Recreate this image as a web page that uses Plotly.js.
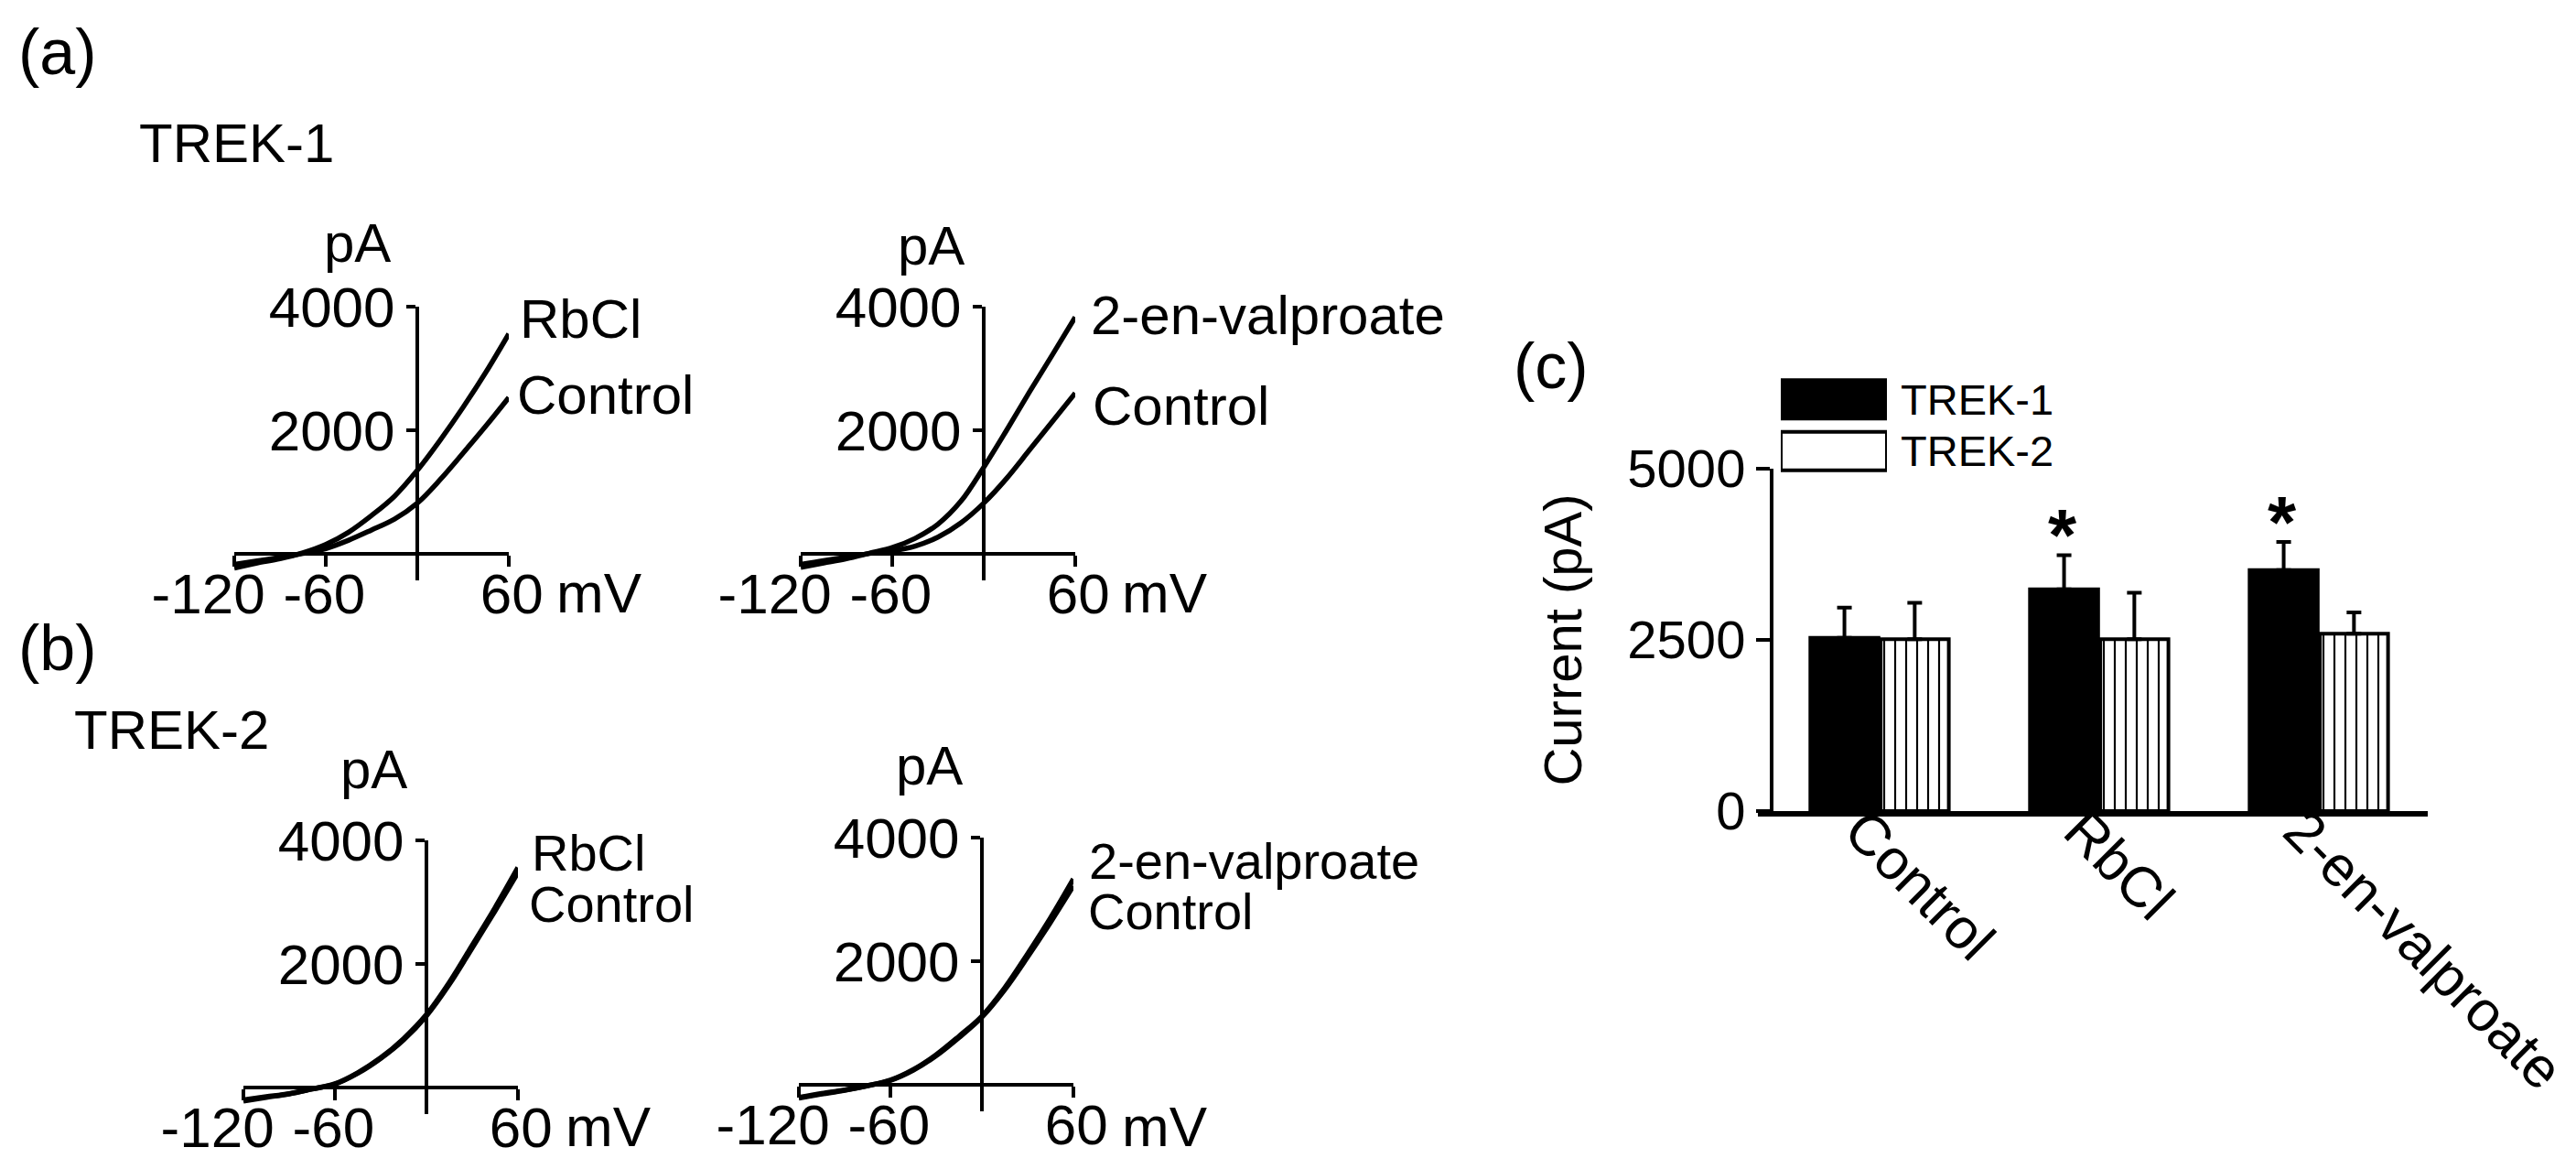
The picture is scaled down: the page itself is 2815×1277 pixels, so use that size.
<!DOCTYPE html>
<html>
<head>
<meta charset="utf-8">
<script src="https://cdn.plot.ly/plotly-3.0.1.min.js"></script>
<style>html,body{margin:0;padding:0;background:#fff;}#chart{width:2815px;height:1277px;}</style>
</head>
<body>
<div id="chart"></div>
<script>
// ---------------- DATA ----------------
const voltage = [-120, -105, -90, -75, -60, -45, -30, -15, 0, 15, 30, 45, 60];
// Panel (a) TREK-1 current (pA)
const trek1RbCl      = [-230, -150, -80, 15, 150, 350, 620, 930, 1350, 1840, 2370, 2940, 3560];
const trek1ControlA  = [-170, -115, -60, 5, 85, 220, 385, 560, 820, 1200, 1630, 2070, 2530];
const trek1Valproate = [-220, -150, -80, 10, 100, 250, 480, 850, 1400, 2000, 2620, 3220, 3830];
const trek1ControlB  = [-170, -110, -55, 5, 50, 125, 270, 500, 820, 1220, 1680, 2140, 2600];
// Panel (b) TREK-2 current (pA)
const trek2RbCl      = [-220, -160, -105, -25, 60, 240, 480, 790, 1180, 1700, 2300, 2910, 3560];
const trek2ControlA  = [-200, -150, -100, -25, 55, 230, 470, 770, 1160, 1670, 2260, 2860, 3480];
const trek2Valproate = [-215, -150, -90, -15, 75, 245, 485, 785, 1110, 1570, 2120, 2700, 3330];
const trek2ControlB  = [-205, -140, -85, -15, 70, 235, 470, 765, 1095, 1540, 2070, 2630, 3220];
const ivTickVals = [-120, -60, 60];
const ivTickText = ['-120', '-60', '60'];
const ivCurrentTicks = [2000, 4000];
// Panel (c)
const barCategories = ['Control', 'RbCl', '2-en-valproate'];
const seriesNames = ['TREK-1', 'TREK-2'];
const trek1Mean = [2530, 3240, 3520];
const trek1Sem  = [440, 495, 410];
const trek2Mean = [2510, 2510, 2590];
const trek2Sem  = [530, 680, 310];
const significant = [false, true, true];
const barTickVals = [0, 2500, 5000];
const legendSwatch = [1, 1];

// ---------------- LAYOUT HELPERS ----------------
const W = 2815, H = 1277;
const F = 'Liberation Sans, Arial, sans-serif';
const px = x => x / W;
const py = y => 1 - y / H;
function ann(text, x, y, size, xanchor) {
  return {text: text, xref: 'paper', yref: 'paper', x: px(x), y: py(y),
    xanchor: xanchor || 'left', yanchor: 'middle', showarrow: false,
    font: {family: F, size: size, color: 'black'}};
}
// horizontal nudge (in mV) of the voltage tick labels relative to their ticks
const labelNudge = [-17, -1, 2];
const PAD = 60; // px of extra room on the label axes

const panels = [
  {x0: 256, x1: 556, yTop: 335, yBot: 634, curves: [trek1RbCl, trek1ControlA]},
  {x0: 875, x1: 1175, yTop: 335, yBot: 634, curves: [trek1Valproate, trek1ControlB]},
  {x0: 266, x1: 566, yTop: 918, yBot: 1217, curves: [trek2RbCl, trek2ControlA]},
  {x0: 873, x1: 1173, yTop: 915, yBot: 1214, curves: [trek2Valproate, trek2ControlB]}
];
const yMin = -430, yMax = 4000, xMin = -120, xMax = 60;

const data = [];
const layout = {
  width: W, height: H, margin: {l: 0, r: 0, t: 0, b: 0},
  paper_bgcolor: 'white', plot_bgcolor: 'rgba(0,0,0,0)',
  showlegend: false, barmode: 'group', bargap: 0.36, bargroupgap: 0.03,
  font: {family: F, color: 'black'},
  annotations: []
};

panels.forEach((p, i) => {
  const n = i + 1;
  const xid = n === 1 ? 'x' : 'x' + n;
  const yid = n === 1 ? 'y' : 'y' + n;
  const xk = n === 1 ? 'xaxis' : 'xaxis' + n;
  const yk = n === 1 ? 'yaxis' : 'yaxis' + n;
  const lid = 'x' + (n + 6);
  const lk = 'xaxis' + (n + 6);
  const xd = [px(p.x0), px(p.x1)];
  const yd = [py(p.yBot), py(p.yTop)];
  const zeroPos = yd[0] + (0 - yMin) / (yMax - yMin) * (yd[1] - yd[0]);
  const mvPerPx = (xMax - xMin) / (p.x1 - p.x0);
  layout[xk] = {
    domain: xd, range: [xMin, xMax], anchor: 'free', position: zeroPos,
    showline: true, linewidth: 4, linecolor: 'black', mirror: false,
    ticks: 'outside', ticklen: 12, tickwidth: 4, tickcolor: 'black',
    tickvals: ivTickVals, showticklabels: false,
    showgrid: false, zeroline: false, fixedrange: true
  };
  // wider label axis with the same scale (carries the tick labels)
  layout[lk] = {
    domain: [px(p.x0 - PAD), px(p.x1 + PAD)],
    range: [xMin - PAD * mvPerPx, xMax + PAD * mvPerPx], anchor: 'free', position: zeroPos,
    showline: false, ticks: 'outside', ticklen: 12, tickwidth: 4, tickcolor: 'rgba(0,0,0,0)',
    tickvals: ivTickVals.map((v, k) => v + labelNudge[k]), ticktext: ivTickText,
    tickangle: 0, ticklabelstandoff: -22,
    tickfont: {family: F, size: 62, color: 'black'},
    showgrid: false, zeroline: false, fixedrange: true
  };
  layout[yk] = {
    domain: yd, range: [yMin, yMax], anchor: 'free',
    position: xd[0] + (0 - xMin) / (xMax - xMin) * (xd[1] - xd[0]),
    showline: true, linewidth: 4, linecolor: 'black',
    ticks: 'outside', ticklen: 10, tickwidth: 4, tickcolor: 'black',
    tickvals: ivCurrentTicks,
    tickfont: {family: F, size: 62, color: 'black'},
    showgrid: false, zeroline: false, fixedrange: true
  };
  p.curves.forEach(c => {
    data.push({type: 'scatter', mode: 'lines', x: voltage, y: c,
      xaxis: xid, yaxis: yid,
      line: {color: 'black', width: 5.5, shape: 'spline', smoothing: 1},
      hoverinfo: 'skip', showlegend: false});
  });
  data.push({type: 'scatter', mode: 'lines', x: [], y: [], xaxis: lid, yaxis: yid,
    hoverinfo: 'skip', showlegend: false});
});

// Panel (c) bars
const zeros = barCategories.map(() => 0);
data.push({type: 'bar', name: seriesNames[0], x: barCategories, y: trek1Mean,
  xaxis: 'x5', yaxis: 'y5',
  marker: {color: 'black', line: {color: 'black', width: 4}},
  error_y: {type: 'data', symmetric: false, array: trek1Sem, arrayminus: zeros,
    color: 'black', thickness: 4, width: 8},
  hoverinfo: 'skip'});
data.push({type: 'bar', name: seriesNames[1], x: barCategories, y: trek2Mean,
  xaxis: 'x5', yaxis: 'y5',
  marker: {color: 'white', line: {color: 'black', width: 4},
    pattern: {shape: '|', fgcolor: 'black', size: 12, solidity: 0.18}},
  error_y: {type: 'data', symmetric: false, array: trek2Sem, arrayminus: zeros,
    color: 'black', thickness: 4, width: 8},
  hoverinfo: 'skip'});

layout.xaxis5 = {
  domain: [px(1921), px(2653)], range: [-0.554, 2.496], type: 'category', anchor: 'y5',
  showline: true, linewidth: 6, linecolor: 'black', ticks: '',
  tickangle: 45, ticklabelstandoff: -46, ticklabelshift: -20,
  tickfont: {family: F, size: 62, color: 'black'},
  showgrid: false, zeroline: false, fixedrange: true
};
layout.yaxis5 = {
  domain: [py(886), py(512)], range: [0, 5000], anchor: 'free', position: px(1936),
  showline: true, linewidth: 4, linecolor: 'black',
  ticks: 'outside', ticklen: 15, tickwidth: 4, tickcolor: 'black',
  tickvals: barTickVals, tickfont: {family: F, size: 58, color: 'black'},
  title: {text: 'Current (pA)', font: {family: F, size: 58, color: 'black'}, standoff: 30},
  showgrid: false, zeroline: false, fixedrange: true
};

// Legend swatches drawn as a small bar subplot
data.push({type: 'bar', orientation: 'h', y: seriesNames, x: legendSwatch,
  xaxis: 'x6', yaxis: 'y6', width: 0.74,
  marker: {color: ['black', 'white'], line: {color: 'black', width: 4},
    pattern: {shape: ['', '|'], fgcolor: 'black', size: 14, solidity: 0.15}},
  hoverinfo: 'skip', showlegend: false});
layout.xaxis6 = {domain: [px(1946), px(2062)], range: [0, 1], anchor: 'y6',
  visible: false, fixedrange: true};
layout.yaxis6 = {domain: [py(521), py(408)], type: 'category', autorange: 'reversed',
  anchor: 'x6', side: 'right', ticks: '', showline: false, showgrid: false, zeroline: false,
  ticklabelstandoff: 14, tickfont: {family: F, size: 47, color: 'black'}, fixedrange: true};

// Significance stars
significant.forEach((s, i) => {
  if (!s) return;
  layout.annotations.push({text: '<b>*</b>', xref: 'x5', yref: 'y5', x: barCategories[i],
    y: trek1Mean[i] + trek1Sem[i], xshift: -40, yshift: 22, showarrow: false,
    xanchor: 'center', yanchor: 'middle', font: {family: F, size: 80, color: 'black'}});
});

// Text labels
layout.annotations.push(
  ann('(a)', 18, 57, 70), ann('TREK-1', 150, 157, 60),
  ann('(b)', 18, 708, 70), ann('TREK-2', 79, 797, 60),
  ann('(c)', 1652, 400, 70),
  ann('pA', 390, 265, 60, 'center'), ann('RbCl', 566, 348, 60), ann('Control', 563, 431, 60),
  ann('mV', 655, 647, 62, 'center'),
  ann('pA', 1017, 268, 60, 'center'), ann('2-en-valproate', 1190, 345, 60), ann('Control', 1192, 443, 60),
  ann('mV', 1273, 647, 62, 'center'),
  ann('pA', 408, 840, 60, 'center'), ann('RbCl', 579, 932, 56), ann('Control', 576, 987, 56),
  ann('mV', 665, 1230, 62, 'center'),
  ann('pA', 1015, 836, 60, 'center'), ann('2-en-valproate', 1188, 940, 56), ann('Control', 1187, 995, 56),
  ann('mV', 1273, 1230, 62, 'center')
);

Plotly.newPlot('chart', data, layout, {staticPlot: true, displayModeBar: false});
</script>
</body>
</html>
